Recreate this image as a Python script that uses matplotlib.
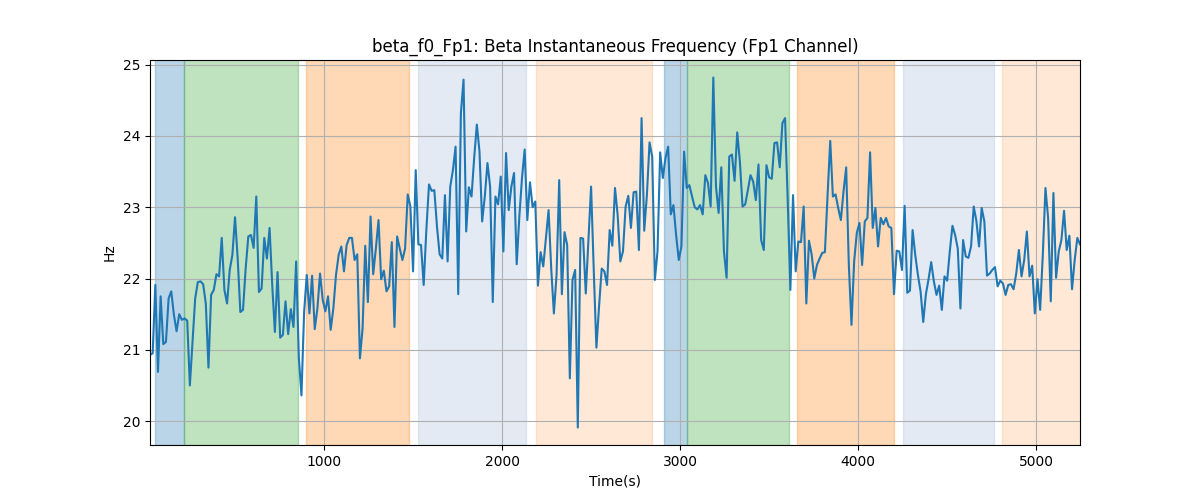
import numpy as np
import matplotlib
matplotlib.use("Agg")
import matplotlib.pyplot as plt

# time axis (seconds)
t_first = 20
t_last = 5247

freq_hz = [
    # segment 1
    20.93, 20.95, 21.91, 20.69, 21.75, 21.08, 21.11, 21.72, 21.82, 21.49,
    21.26, 21.50, 21.42, 21.44, 21.41, 20.50, 21.11, 21.72, 21.95, 21.96,
    21.92, 21.65, 20.75, 21.77, 21.84, 22.06, 22.03, 22.57, 21.84, 21.65,
    22.12, 22.33, 22.86, 22.28, 21.53, 21.56, 22.14, 22.59, 22.61, 22.43,
    23.15,
    # segment 2
    21.81, 21.86, 22.57, 22.28, 22.71, 21.91, 21.25, 22.09, 21.17, 21.21,
    21.68, 21.22, 21.57, 21.32, 22.24, 20.90, 20.36, 21.53, 22.05, 21.51,
    22.04, 21.29, 21.58, 22.07, 21.70, 21.54, 21.75, 21.28, 21.58, 22.05,
    22.33, 22.45, 22.10, 22.47, 22.57, 22.57, 22.26, 22.34, 20.88,
    # segment 3
    21.30, 22.46, 21.67, 22.87, 22.06, 22.42, 22.82, 21.99, 22.11, 21.82,
    21.89, 22.51, 21.32, 22.59, 22.42, 22.26, 22.42, 23.18, 23.01, 22.10,
    23.52, 22.48, 22.47, 21.91, 22.68, 23.32, 23.23, 23.24, 22.73, 22.34,
    22.28, 23.17, 22.24, 23.29, 23.52, 23.85, 21.78, 24.32, 24.79,
    # segment 4
    22.66, 23.28, 23.15, 23.69, 24.16, 23.78, 22.80, 23.15, 23.62, 23.29,
    21.67, 23.15, 23.04, 23.43, 22.38, 23.76, 22.96, 23.29, 23.48, 22.20,
    22.87, 23.41, 23.81, 22.82, 23.35, 23.00, 23.08, 21.90, 22.37, 22.17,
    22.57, 22.96, 22.14, 21.51, 22.05, 23.38, 21.78, 22.65, 22.47,
    # segment 5
    20.60, 21.98, 22.12, 19.91, 22.57, 22.56, 21.79, 22.54, 23.29, 22.12,
    21.03, 21.61, 22.14, 22.10, 21.91, 22.68, 22.46, 23.27, 22.89, 22.24,
    22.38, 23.01, 23.16, 22.71, 23.21, 23.22, 22.40, 24.25, 22.67, 23.17,
    23.91, 23.71, 21.98, 22.38, 23.77, 23.41, 23.69, 23.85, 22.90,
    # segment 6
    23.03, 22.61, 22.26, 22.45, 23.78, 23.27, 23.31, 23.15, 23.00, 22.97,
    23.03, 22.90, 23.45, 23.34, 23.01, 24.82, 23.29, 22.92, 23.56, 22.38,
    22.01, 23.71, 23.74, 23.37, 24.05, 23.64, 23.01, 23.04, 23.24, 23.45,
    23.36, 23.10, 23.60, 22.54, 22.40, 23.59, 23.42, 23.40, 23.90,
    # segment 7
    23.91, 23.56, 24.18, 24.25, 23.10, 21.84, 23.17, 22.10, 22.52, 22.51,
    23.01, 21.65, 22.53, 22.34, 22.00, 22.19, 22.28, 22.36, 22.37, 23.17,
    23.93, 23.15, 23.18, 22.99, 22.82, 23.22, 23.56, 22.19, 21.35, 22.24,
    22.64, 22.78, 22.19, 22.80, 22.85, 23.77, 22.71, 22.99, 22.45,
    # segment 8
    22.85, 22.76, 22.85, 22.73, 22.71, 21.78, 22.39, 22.38, 22.12, 23.02,
    21.80, 21.83, 22.68, 22.33, 22.05, 21.82, 21.39, 21.78, 21.99, 22.23,
    21.96, 21.77, 21.90, 21.56, 22.03, 21.97, 22.38, 22.74, 22.61, 22.42,
    21.58, 22.54, 22.31, 22.29, 22.45, 23.01, 22.81, 22.45, 22.99,
    # segment 9
    22.80, 22.04, 22.07, 22.12, 22.16, 21.89, 21.97, 21.93, 21.77, 21.91,
    21.92, 21.85, 22.07, 22.40, 22.03, 22.26, 22.66, 22.03, 22.18, 21.51,
    21.99, 21.56, 22.33, 23.27, 22.85, 21.68, 23.20, 22.01, 22.38, 22.54,
    22.95, 22.40, 22.60, 21.85, 22.26, 22.57, 22.48,
]

span_starts = [50, 213, 897, 1529, 2192, 2907, 3038, 3655, 4251, 4808]
span_ends = [213, 850, 1474, 2134, 2843, 3038, 3610, 4199, 4763, 5300]
span_colors = ["tab:blue", "tab:green", "tab:orange", "lightsteelblue", "tab:orange",
               "tab:blue", "tab:green", "tab:orange", "lightsteelblue", "tab:orange"]
span_alphas = [0.3, 0.3, 0.3, 0.35, 0.17, 0.3, 0.3, 0.3, 0.35, 0.17]

time_s = np.linspace(t_first, t_last, len(freq_hz))

fig, ax = plt.subplots(figsize=(12, 5), dpi=100)
for s, e, c, a in zip(span_starts, span_ends, span_colors, span_alphas):
    ax.axvspan(s, e, color=c, alpha=a)
ax.plot(time_s, freq_hz, color="tab:blue", linewidth=1.5)
ax.set_xlim(time_s[0], time_s[-1])
ax.set_title("beta_f0_Fp1: Beta Instantaneous Frequency (Fp1 Channel)")
ax.set_xlabel("Time(s)")
ax.set_ylabel("Hz")
ax.grid(True)
fig.savefig("out.png", dpi=100)
